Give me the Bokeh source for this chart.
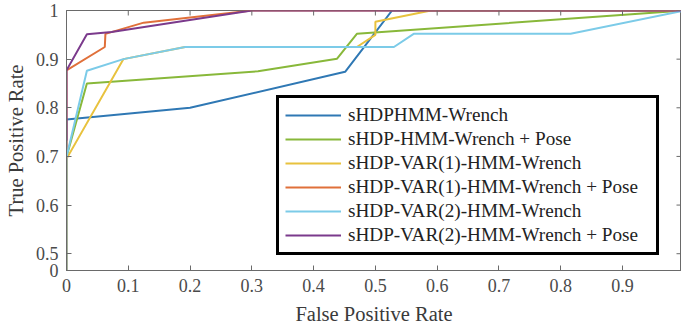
from bokeh.plotting import figure
from bokeh.models import FixedTicker, Legend, LegendItem, Range1d
from bokeh.embed import file_html
from bokeh.resources import INLINE

# ---- data ----
series_names = [
    "sHDPHMM-Wrench",
    "sHDP-HMM-Wrench + Pose",
    "sHDP-VAR(1)-HMM-Wrench",
    "sHDP-VAR(1)-HMM-Wrench + Pose",
    "sHDP-VAR(2)-HMM-Wrench",
    "sHDP-VAR(2)-HMM-Wrench + Pose",
]
colors = ["#2f78b4", "#88b83a", "#e8c23e", "#e0703a", "#7ccbe8", "#7b3a8c"]

fpr_hmm_w = [0, 0, 0.20, 0.451, 0.527, 1.0]
tpr_hmm_w = [0, 0.776, 0.800, 0.874, 1.0, 1.0]

fpr_hmm_wp = [0, 0, 0.033, 0.31, 0.438, 0.47, 1.0]
tpr_hmm_wp = [0, 0.699, 0.850, 0.875, 0.901, 0.952, 1.0]

fpr_var1_w = [0, 0, 0.092, 0.192, 0.47, 0.50, 0.50, 0.59, 1.0]
tpr_var1_w = [0, 0.695, 0.900, 0.925, 0.925, 0.950, 0.977, 1.0, 1.0]

fpr_var1_wp = [0, 0, 0.062, 0.063, 0.125, 0.30, 1.0]
tpr_var1_wp = [0, 0.877, 0.925, 0.952, 0.975, 1.0, 1.0]

fpr_var2_w = [0, 0, 0.033, 0.092, 0.192, 0.53, 0.562, 0.816, 1.0]
tpr_var2_w = [0, 0.699, 0.876, 0.900, 0.925, 0.925, 0.952, 0.952, 1.0]

fpr_var2_wp = [0, 0, 0.033, 0.073, 0.30, 1.0]
tpr_var2_wp = [0.733, 0.877, 0.951, 0.956, 1.0, 1.0]

fprs = [fpr_hmm_w, fpr_hmm_wp, fpr_var1_w, fpr_var1_wp, fpr_var2_w, fpr_var2_wp]
tprs = [tpr_hmm_w, tpr_hmm_wp, tpr_var1_w, tpr_var1_wp, tpr_var2_w, tpr_var2_wp]

x_ticks = [0, 0.1, 0.2, 0.3, 0.4, 0.5, 0.6, 0.7, 0.8, 0.9, 1.0]
x_tick_labels = ["0", "0.1", "0.2", "0.3", "0.4", "0.5", "0.6", "0.7", "0.8", "0.9", "1"]
y_tick_values = [0, 0.5, 0.6, 0.7, 0.8, 0.9, 1.0]
y_tick_labels = ["0", "0.5", "0.6", "0.7", "0.8", "0.9", "1"]

# broken y axis: the 0..0.5 span is compressed into a short strip
Y_BREAK = 0.5
Y_BOTTOM = 0.4655
X_END = 0.9955


def ymap(v):
    return v if v >= Y_BREAK else Y_BOTTOM + v * (Y_BREAK - Y_BOTTOM) / Y_BREAK


FONT = "Liberation Serif"
AX = "#6a6a6a"

p = figure(
    width=681, height=327, output_backend="svg", toolbar_location=None,
    x_range=Range1d(0, X_END), y_range=Range1d(Y_BOTTOM, 1.0),
    min_border_left=66, min_border_right=0, min_border_top=10, min_border_bottom=57,
)
p.grid.visible = False
p.outline_line_color = AX
p.outline_line_width = 1
p.background_fill_color = "white"
p.border_fill_color = "white"

renderers = []
for xs, ys, c in zip(fprs, tprs, colors):
    r = p.line([float(x) for x in xs], [ymap(y) for y in ys], line_color=c, line_width=2)
    renderers.append(r)

# axes
xa = p.xaxis[0]
xa.ticker = FixedTicker(ticks=x_ticks)
xa.major_label_overrides = dict(zip(x_ticks, x_tick_labels))
ya = p.yaxis[0]
y_ticks_mapped = [ymap(v) for v in y_tick_values]
ya.ticker = FixedTicker(ticks=y_ticks_mapped)
ya.major_label_overrides = dict(zip(y_ticks_mapped, y_tick_labels))

for ax in (xa, ya):
    ax.axis_line_color = AX
    ax.major_tick_line_color = AX
    ax.major_tick_in = 5
    ax.major_tick_out = 0
    ax.minor_tick_line_color = None
    ax.major_label_text_font = FONT
    ax.major_label_text_font_size = "18px"
    ax.major_label_text_color = "#4a4a4a"
    ax.axis_label_text_font = FONT
    ax.axis_label_text_font_size = "20.5px"
    ax.axis_label_text_font_style = "normal"
    ax.axis_label_text_color = "#3a3a3a"

xa.axis_label = "False Positive Rate"
xa.major_label_standoff = 8
xa.axis_label_standoff = 8
ya.axis_label = "True Positive Rate"
ya.major_label_standoff = 8
ya.axis_label_standoff = 6

# box-style tick marks on the top and right edges
tick_len_y = 5 / 485
tick_len_x = 5 / 617
p.segment(x0=x_ticks[:-1], y0=[1.0] * (len(x_ticks) - 1),
          x1=x_ticks[:-1], y1=[1.0 - tick_len_y] * (len(x_ticks) - 1),
          line_color=AX, line_width=1)
p.segment(x0=[X_END] * len(y_ticks_mapped), y0=y_ticks_mapped,
          x1=[X_END - tick_len_x] * len(y_ticks_mapped), y1=y_ticks_mapped,
          line_color=AX, line_width=1)

legend = Legend(
    items=[LegendItem(label=n, renderers=[r]) for n, r in zip(series_names, renderers)],
    location=(210, 15),
    border_line_color="black", border_line_width=3, border_line_alpha=1,
    label_text_font=FONT, label_text_font_size="19.2px", label_text_color="#222222",
    glyph_width=56, glyph_height=20, label_height=20, label_width=302, label_standoff=7,
    spacing=2, padding=6, margin=0,
    background_fill_color="white", background_fill_alpha=1,
)
p.add_layout(legend, "center")

open("out.html", "w").write(file_html(p, INLINE))
